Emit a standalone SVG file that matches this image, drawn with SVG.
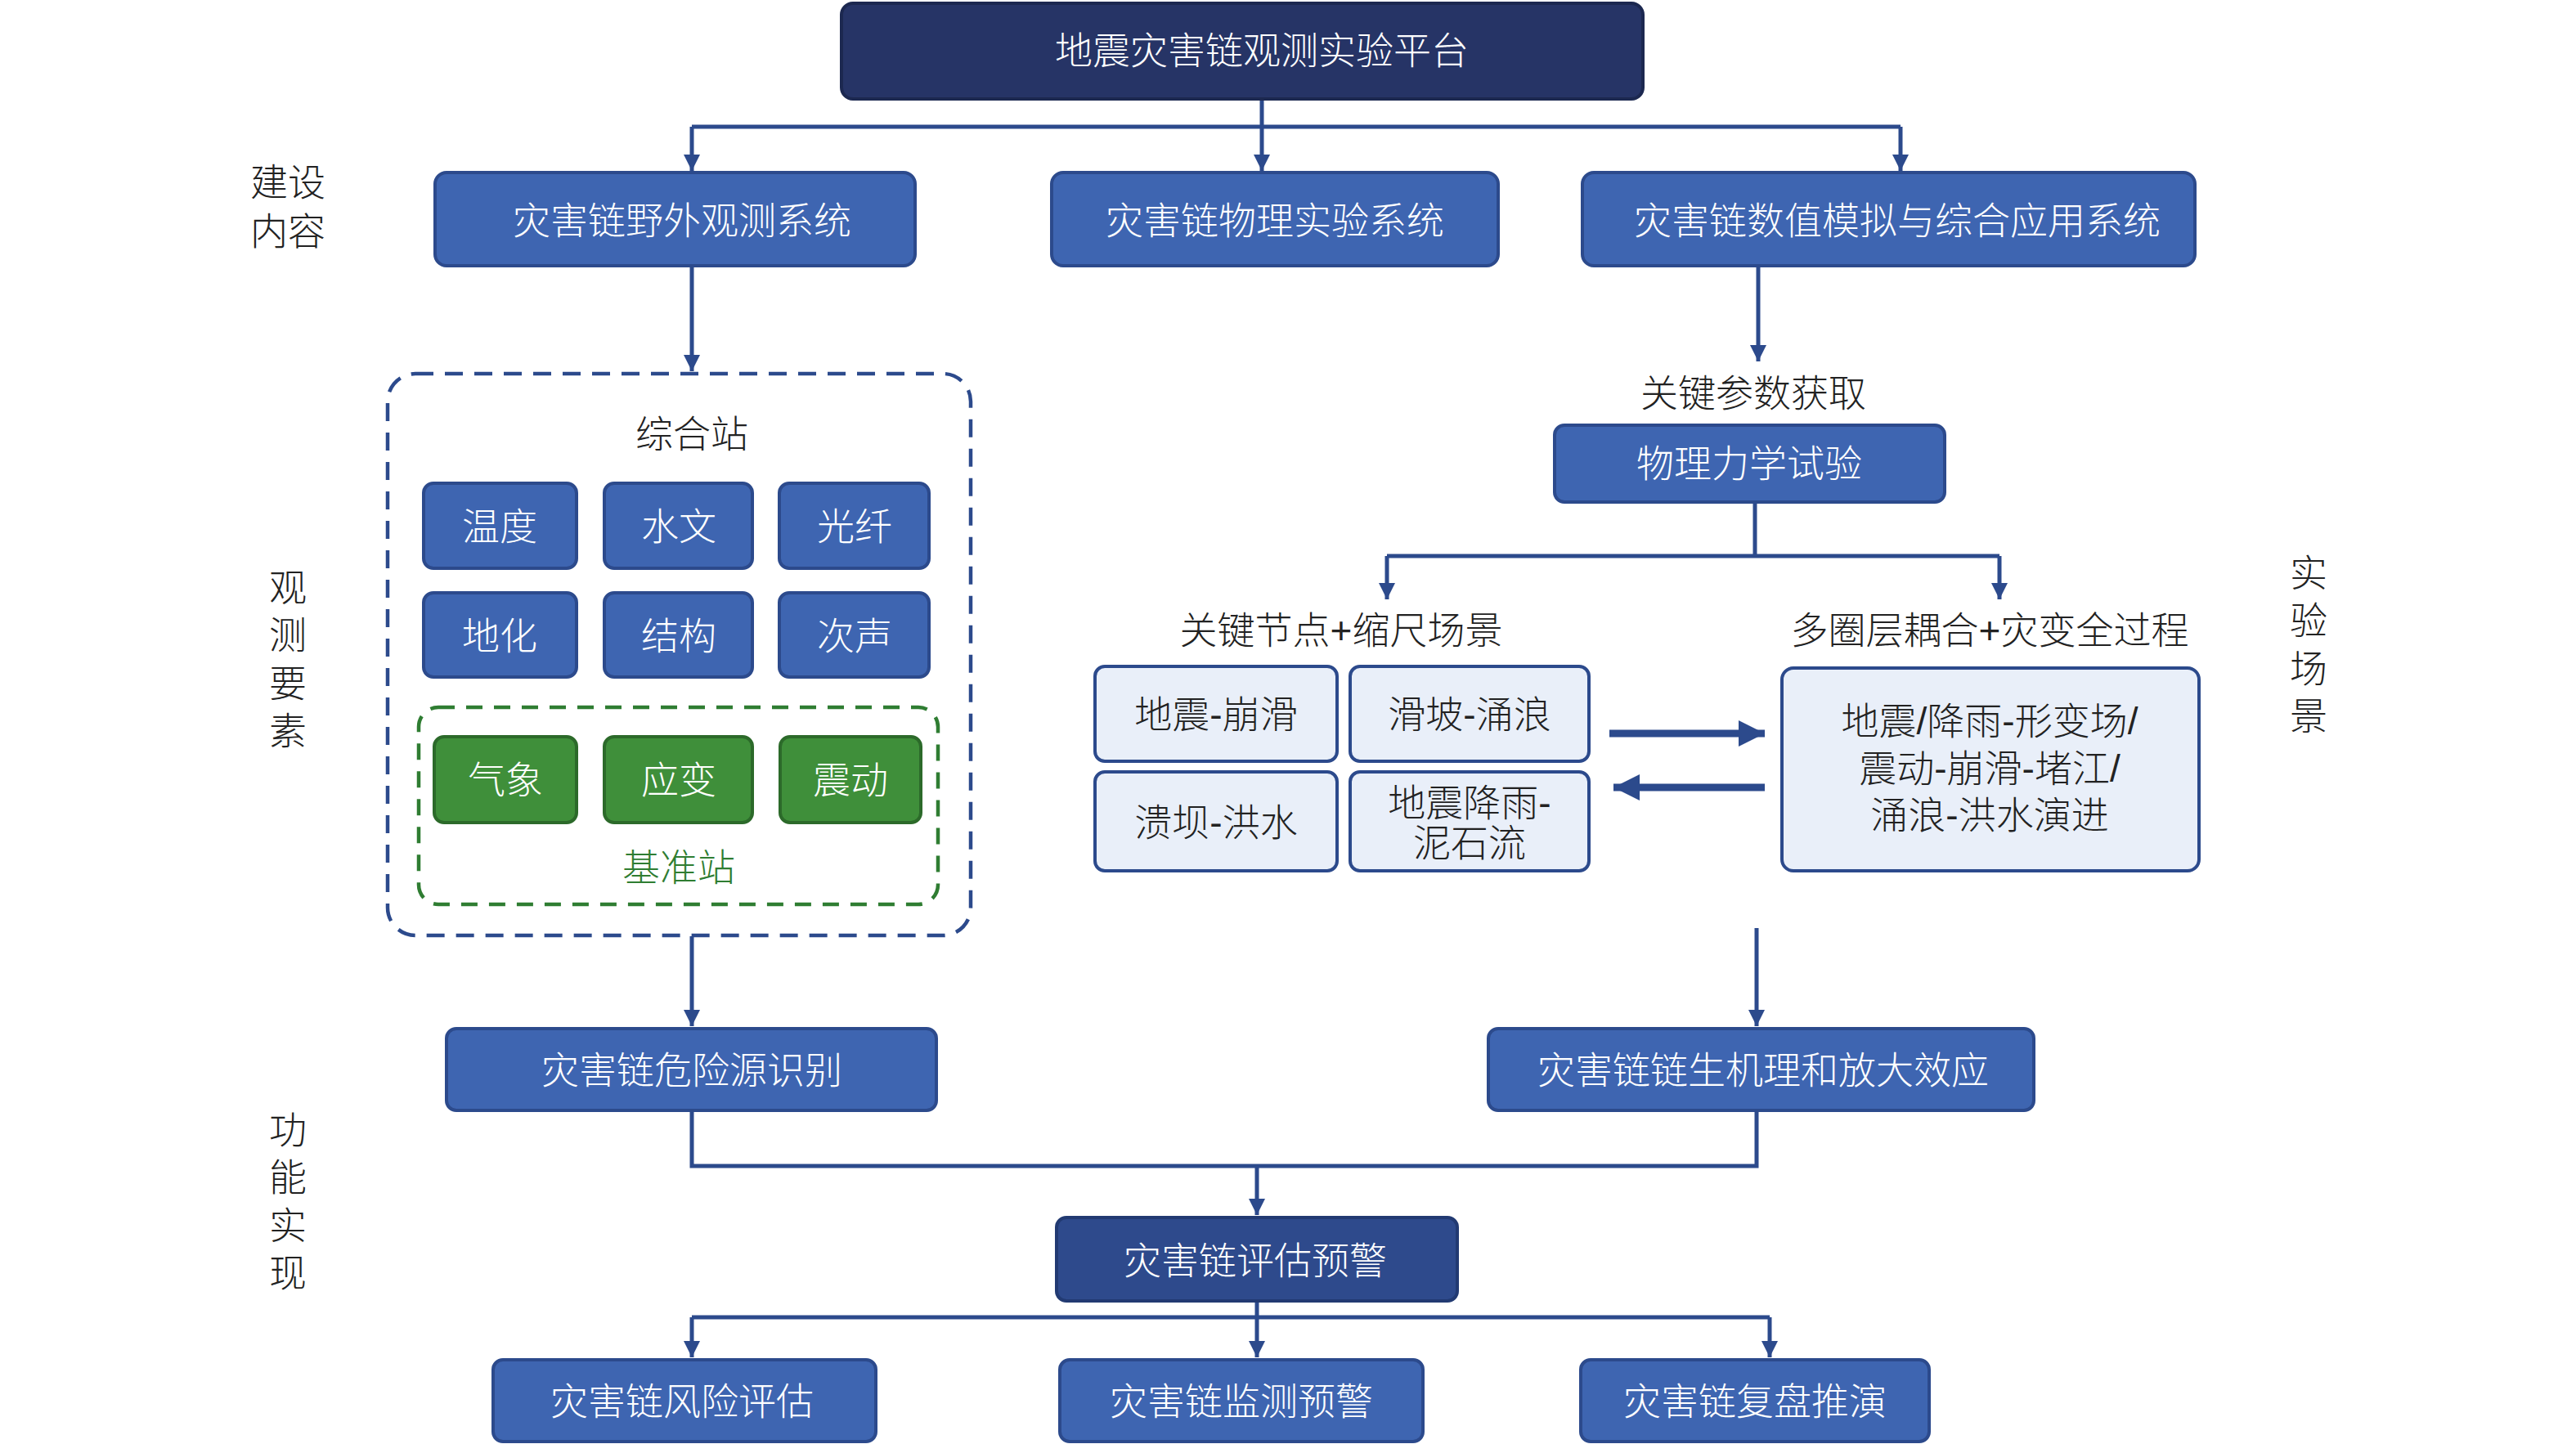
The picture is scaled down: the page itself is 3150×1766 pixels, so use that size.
<svg xmlns="http://www.w3.org/2000/svg" width="3150" height="1766" viewBox="0 0 3150 1766">
<defs>
<style>
.t{font-family:"Liberation Sans","Noto Sans CJK SC",sans-serif;font-size:46px;font-weight:300;text-anchor:middle;dominant-baseline:central}
.w{fill:#ffffff}
.d{fill:#222222}
.g{fill:#2f7d32}
.blue{fill:#3e65b1;stroke:#2c4a8c;stroke-width:4}
.navy{fill:#263466;stroke:#1c2850;stroke-width:4}
.dblue{fill:#2e4a8c;stroke:#223a72;stroke-width:4}
.green{fill:#3f8f3a;stroke:#2c6a2a;stroke-width:4}
.light{fill:#e9eff9;stroke:#2c4a8c;stroke-width:4}
.ln{fill:none;stroke:#2c4a8c;stroke-width:5}
.thick{fill:none;stroke:#2c4a8c;stroke-width:9}
</style>
<marker id="ah" viewBox="0 0 10 10" refX="10" refY="5" markerWidth="4" markerHeight="5" markerUnits="strokeWidth" orient="auto">
<path d="M0,0 L10,5 L0,10 z" fill="#2c4a8c"/>
</marker>
<marker id="big" viewBox="0 0 10 10" refX="10" refY="5" markerWidth="3.6" markerHeight="4" markerUnits="strokeWidth" orient="auto">
<path d="M0,0 L10,5 L0,10 z" fill="#2c4a8c"/>
</marker>
</defs>
<rect width="3150" height="1766" fill="#ffffff"/>

<g id="connectors">
<path class="ln" d="M1543,121 V155"/>
<path class="ln" d="M846,155 H2324"/>
<path class="ln" d="M846,155 V209" marker-end="url(#ah)"/>
<path class="ln" d="M1543,155 V209" marker-end="url(#ah)"/>
<path class="ln" d="M2324,155 V209" marker-end="url(#ah)"/>
<path class="ln" d="M846,325 V454" marker-end="url(#ah)"/>
<path class="ln" d="M2150,325 V442" marker-end="url(#ah)"/>
<path class="ln" d="M2146,613 V680"/>
<path class="ln" d="M1696,680 H2445"/>
<path class="ln" d="M1696,680 V733" marker-end="url(#ah)"/>
<path class="ln" d="M2445,680 V733" marker-end="url(#ah)"/>
<path class="thick" d="M1968,897 H2158" marker-end="url(#big)"/>
<path class="thick" d="M2158,963 H1973" marker-end="url(#big)"/>
<path class="ln" d="M846,1145 V1255" marker-end="url(#ah)"/>
<path class="ln" d="M2148,1135 V1255" marker-end="url(#ah)"/>
<path class="ln" d="M846,1358 V1426 H2148 V1358"/>
<path class="ln" d="M1537,1426 V1486" marker-end="url(#ah)"/>
<path class="ln" d="M1537,1591 V1611"/>
<path class="ln" d="M846,1611 H2164"/>
<path class="ln" d="M846,1611 V1660" marker-end="url(#ah)"/>
<path class="ln" d="M1537,1611 V1660" marker-end="url(#ah)"/>
<path class="ln" d="M2164,1611 V1660" marker-end="url(#ah)"/>
</g>

<g id="labels">
<text class="t d" x="352" y="223"><tspan x="352">建设</tspan><tspan x="352" dy="60">内容</tspan></text>
<text class="t d" x="352" y="719"><tspan x="352">观</tspan><tspan x="352" dy="58">测</tspan><tspan x="352" dy="59">要</tspan><tspan x="352" dy="58">素</tspan></text>
<text class="t d" x="352" y="1382"><tspan x="352">功</tspan><tspan x="352" dy="58">能</tspan><tspan x="352" dy="59">实</tspan><tspan x="352" dy="58">现</tspan></text>
<text class="t d" x="2823" y="701"><tspan x="2823">实</tspan><tspan x="2823" dy="58">验</tspan><tspan x="2823" dy="59">场</tspan><tspan x="2823" dy="58">景</tspan></text>
</g>

<g id="platform"><rect class="navy" x="1029" y="4" width="980" height="117" rx="14"/><text class="t w" x="1543" y="62">地震灾害链观测实验平台</text></g>

<g id="field-system"><rect class="blue" x="532" y="211" width="587" height="114" rx="14"/><text class="t w" x="834" y="270">灾害链野外观测系统</text></g>
<g id="physical-system"><rect class="blue" x="1286" y="211" width="546" height="114" rx="14"/><text class="t w" x="1559" y="270">灾害链物理实验系统</text></g>
<g id="numerical-system"><rect class="blue" x="1935" y="211" width="749" height="114" rx="14"/><text class="t w" x="2320" y="270">灾害链数值模拟与综合应用系统</text></g>

<g id="station">
<rect x="474" y="457" width="713" height="687" rx="34" fill="none" stroke="#2c4a8c" stroke-width="4.5" stroke-dasharray="22,14"/>
<text class="t d" x="846" y="531">综合站</text>
</g>
<g id="n-temp"><rect class="blue" x="518" y="591" width="187" height="104" rx="12"/><text class="t w" x="611" y="644">温度</text></g>
<g id="n-hydro"><rect class="blue" x="739" y="591" width="181" height="104" rx="12"/><text class="t w" x="830" y="644">水文</text></g>
<g id="n-fiber"><rect class="blue" x="953" y="591" width="183" height="104" rx="12"/><text class="t w" x="1045" y="644">光纤</text></g>
<g id="n-geochem"><rect class="blue" x="518" y="725" width="187" height="103" rx="12"/><text class="t w" x="611" y="778">地化</text></g>
<g id="n-struct"><rect class="blue" x="739" y="725" width="181" height="103" rx="12"/><text class="t w" x="830" y="778">结构</text></g>
<g id="n-infra"><rect class="blue" x="953" y="725" width="183" height="103" rx="12"/><text class="t w" x="1045" y="778">次声</text></g>

<g id="base-station">
<rect x="512" y="865" width="635" height="241" rx="24" fill="none" stroke="#2f7d32" stroke-width="4.5" stroke-dasharray="20,14"/>
<text class="t g" x="830" y="1061">基准站</text>
</g>
<g id="n-meteo"><rect class="green" x="531" y="901" width="174" height="105" rx="12"/><text class="t w" x="618" y="954">气象</text></g>
<g id="n-strain"><rect class="green" x="739" y="901" width="181" height="105" rx="12"/><text class="t w" x="830" y="954">应变</text></g>
<g id="n-quake"><rect class="green" x="954" y="901" width="172" height="105" rx="12"/><text class="t w" x="1040" y="954">震动</text></g>

<g id="key-params"><text class="t d" x="2144" y="481">关键参数获取</text></g>
<g id="mech-test"><rect class="blue" x="1901" y="520" width="477" height="94" rx="12"/><text class="t w" x="2139" y="567">物理力学试验</text></g>

<g id="scale-scene"><text class="t d" x="1640" y="771">关键节点+缩尺场景</text></g>
<g id="multi-sphere"><text class="t d" x="2433" y="771">多圈层耦合+灾变全过程</text></g>

<g id="s1"><rect class="light" x="1339" y="815" width="296" height="116" rx="12"/><text class="t d" x="1487" y="874">地震-崩滑</text></g>
<g id="s2"><rect class="light" x="1651" y="815" width="292" height="116" rx="12"/><text class="t d" x="1797" y="874">滑坡-涌浪</text></g>
<g id="s3"><rect class="light" x="1339" y="944" width="296" height="121" rx="12"/><text class="t d" x="1487" y="1006">溃坝-洪水</text></g>
<g id="s4"><rect class="light" x="1651" y="944" width="292" height="121" rx="12"/><text class="t d" x="1797" y="982"><tspan x="1797">地震降雨-</tspan><tspan x="1797" dy="49">泥石流</tspan></text></g>
<g id="s5"><rect class="light" x="2179" y="817" width="510" height="248" rx="14"/>
<text class="t d" x="2433" y="882"><tspan x="2433">地震/降雨-形变场/</tspan><tspan x="2433" dy="58">震动-崩滑-堵江/</tspan><tspan x="2433" dy="57">涌浪-洪水演进</tspan></text></g>

<g id="hazard-id"><rect class="blue" x="546" y="1258" width="599" height="100" rx="12"/><text class="t w" x="846" y="1309">灾害链危险源识别</text></g>
<g id="mechanism"><rect class="blue" x="1820" y="1258" width="667" height="100" rx="12"/><text class="t w" x="2156" y="1309">灾害链链生机理和放大效应</text></g>

<g id="assess-warn"><rect class="dblue" x="1292" y="1489" width="490" height="102" rx="12"/><text class="t w" x="1535" y="1542">灾害链评估预警</text></g>

<g id="risk"><rect class="blue" x="603" y="1663" width="468" height="100" rx="12"/><text class="t w" x="834" y="1714">灾害链风险评估</text></g>
<g id="monitor"><rect class="blue" x="1296" y="1663" width="444" height="100" rx="12"/><text class="t w" x="1518" y="1714">灾害链监测预警</text></g>
<g id="replay"><rect class="blue" x="1933" y="1663" width="426" height="100" rx="12"/><text class="t w" x="2146" y="1714">灾害链复盘推演</text></g>
</svg>
